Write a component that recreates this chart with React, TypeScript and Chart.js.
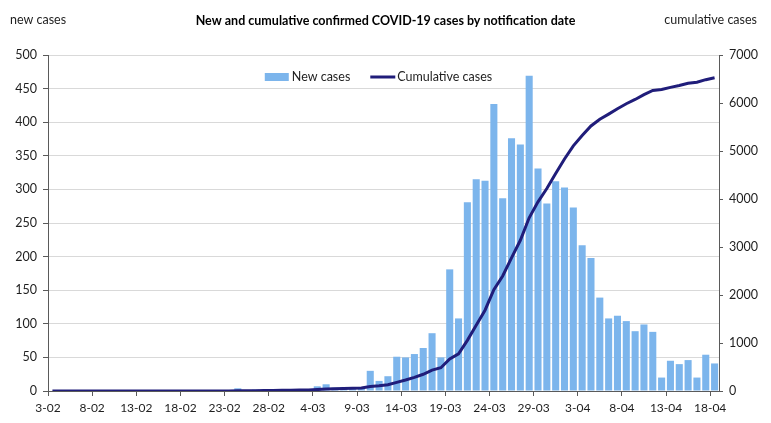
import React, { useEffect, useRef } from 'react';
import { Chart, registerables } from 'chart.js';

Chart.register(...registerables);

const TITLE = 'New and cumulative confirmed COVID-19 cases by notification date';
const LEFT_AXIS_TITLE = 'new cases';
const RIGHT_AXIS_TITLE = 'cumulative cases';
const BAR_LABEL = 'New cases';
const LINE_LABEL = 'Cumulative cases';

const DATES = [
  '3-02', '4-02', '5-02', '6-02', '7-02', '8-02', '9-02', '10-02', '11-02', '12-02',
  '13-02', '14-02', '15-02', '16-02', '17-02', '18-02', '19-02', '20-02', '21-02', '22-02',
  '23-02', '24-02', '25-02', '26-02', '27-02', '28-02', '29-02', '1-03', '2-03', '3-03',
  '4-03', '5-03', '6-03', '7-03', '8-03', '9-03', '10-03', '11-03', '12-03', '13-03',
  '14-03', '15-03', '16-03', '17-03', '18-03', '19-03', '20-03', '21-03', '22-03', '23-03',
  '24-03', '25-03', '26-03', '27-03', '28-03', '29-03', '30-03', '31-03', '1-04', '2-04',
  '3-04', '4-04', '5-04', '6-04', '7-04', '8-04', '9-04', '10-04', '11-04', '12-04',
  '13-04', '14-04', '15-04', '16-04', '17-04', '18-04',
];

const TICK_LABELS = [
  '3-02', '8-02', '13-02', '18-02', '23-02', '28-02', '4-03', '9-03',
  '14-03', '19-03', '24-03', '29-03', '3-04', '8-04', '13-04', '18-04',
];

const NEW_CASES = [
  0, 0, 0, 0, 0, 0, 0, 0, 0, 0,
  0, 0, 0, 0, 0, 0, 0, 0, 0, 0,
  0, 4, 1, 2, 2, 3, 2, 3, 3, 3,
  7, 10, 5, 6, 5, 6, 30, 15, 22, 51,
  50, 55, 64, 86, 50, 181, 108, 281, 315, 313,
  427, 287, 376, 367, 469, 331, 279, 312, 303, 273,
  217, 198, 139, 108, 112, 104, 89, 99, 88, 20,
  45, 40, 46, 20, 54, 41,
];

const CUMULATIVE_CASES = [
  0, 0, 0, 0, 0, 0, 0, 0, 0, 0,
  0, 0, 0, 0, 0, 0, 0, 0, 0, 0,
  0, 4, 5, 7, 9, 12, 14, 17, 20, 23,
  30, 40, 45, 51, 56, 62, 92, 107, 129, 180,
  230, 285, 349, 435, 485, 666, 774, 1055, 1370, 1683,
  2110, 2397, 2773, 3140, 3609, 3940, 4219, 4531, 4834, 5107,
  5324, 5522, 5661, 5769, 5881, 5985, 6074, 6173, 6261, 6281,
  6326, 6366, 6412, 6432, 6486, 6527,
];

const LEFT_MAX = 500;
const LEFT_STEP = 50;
const RIGHT_MAX = 7000;
const RIGHT_STEP = 1000;

const FONT = 'Lato, "Noto Sans", sans-serif';
const TEXT = '#1e1e1e';
const AXIS = '#5a5a5a';
const GRID = '#d9d9d9';
const BLUE = '#7cb5ec';
const NAVY = '#201d7a';

const overlayPlugin = {
  id: 'overlayText',
  afterDraw(chart: any) {
    const { ctx, chartArea } = chart;
    ctx.save();
    ctx.fillStyle = TEXT;
    ctx.font = `12.5px ${FONT}`;
    ctx.textBaseline = 'middle';
    ctx.textAlign = 'left';
    ctx.fillText(LEFT_AXIS_TITLE, 10, 20);
    ctx.textAlign = 'right';
    ctx.fillText(RIGHT_AXIS_TITLE, chart.width - 14, 20);

    // legend inside plot area
    const y = chartArea.top + 22;
    const boxW = 24;
    const boxH = 8;
    const lineW = 25;
    const w1 = ctx.measureText(BAR_LABEL).width;
    const w2 = ctx.measureText(LINE_LABEL).width;
    const total = boxW + 3 + w1 + 20 + lineW + 2 + w2;
    let x = (chartArea.left + chartArea.right) / 2 - 5 - total / 2;
    ctx.fillStyle = BLUE;
    ctx.fillRect(x, y - boxH / 2, boxW, boxH);
    x += boxW + 3;
    ctx.fillStyle = TEXT;
    ctx.textAlign = 'left';
    ctx.fillText(BAR_LABEL, x, y);
    x += w1 + 20;
    ctx.strokeStyle = NAVY;
    ctx.lineWidth = 3;
    ctx.beginPath();
    ctx.moveTo(x, y);
    ctx.lineTo(x + lineW, y);
    ctx.stroke();
    x += lineW + 2;
    ctx.fillText(LINE_LABEL, x, y);
    ctx.restore();
  },
};

export default function App() {
  const ref = useRef<HTMLCanvasElement | null>(null);

  useEffect(() => {
    if (!ref.current) return;
    const chart = new Chart(ref.current, {
      type: 'bar',
      data: {
        labels: DATES,
        datasets: [
          {
            type: 'line',
            label: LINE_LABEL,
            data: CUMULATIVE_CASES,
            yAxisID: 'y1',
            borderColor: NAVY,
            backgroundColor: NAVY,
            borderWidth: 3,
            pointRadius: 0,
            tension: 0,
            order: 0,
          } as any,
          {
            type: 'bar',
            label: BAR_LABEL,
            data: NEW_CASES,
            yAxisID: 'y',
            backgroundColor: BLUE,
            barPercentage: 0.8,
            categoryPercentage: 1,
            order: 1,
          } as any,
        ],
      },
      options: {
        responsive: false,
        animation: false,
        devicePixelRatio: 1,
        layout: { padding: 0 },
        plugins: {
          legend: { display: false },
          tooltip: { enabled: false },
          title: {
            display: true,
            text: TITLE,
            color: '#000',
            font: { family: FONT, size: 12.5, weight: 'bold' },
            padding: { top: 13, bottom: 27 },
          },
        },
        scales: {
          x: {
            type: 'category',
            offset: true,
            grid: {
              offset: true,
              drawOnChartArea: false,
              drawTicks: true,
              tickLength: 5,
              tickWidth: 1,
              tickColor: (c: any) => (c.index !== undefined && TICK_LABELS.includes(DATES[c.index]) ? AXIS : 'rgba(0,0,0,0)'),
            },
            border: { color: AXIS, width: 1 },
            ticks: {
              autoSkip: false,
              maxRotation: 0,
              minRotation: 0,
              labelOffset: -4.41,
              padding: 5,
              color: TEXT,
              font: { family: FONT, size: 12 },
              callback: (_v: any, i: number) => (TICK_LABELS.includes(DATES[i]) ? DATES[i] : ''),
            },
            afterFit: (s: any) => { s.height = 32; },
          },
          y: {
            position: 'left',
            min: 0,
            max: LEFT_MAX,
            grid: {
              color: GRID,
              lineWidth: 1,
              drawTicks: true,
              tickLength: 5,
              tickColor: AXIS,
            },
            border: { color: AXIS, width: 1 },
            ticks: {
              stepSize: LEFT_STEP,
              padding: 6,
              color: TEXT,
              font: { family: FONT, size: 12.5 },
              callback: (v: any) => String(v),
            },
            afterFit: (s: any) => { s.width = 48; },
          },
          y1: {
            position: 'right',
            min: 0,
            max: RIGHT_MAX,
            grid: {
              drawOnChartArea: false,
              drawTicks: true,
              tickLength: 4,
              tickColor: AXIS,
            },
            border: { color: AXIS, width: 1 },
            ticks: {
              stepSize: RIGHT_STEP,
              padding: 6,
              color: TEXT,
              font: { family: FONT, size: 12.5 },
              callback: (v: any) => String(v),
            },
            afterFit: (s: any) => { s.width = 52; },
          },
        },
      },
      plugins: [overlayPlugin],
    });
    return () => chart.destroy();
  }, []);

  return (
    <div style={{ position: 'fixed', left: 0, top: 0, width: 771, height: 423, background: '#fff' }}>
      <canvas ref={ref} width={771} height={423} style={{ display: 'block' }} />
    </div>
  );
}
